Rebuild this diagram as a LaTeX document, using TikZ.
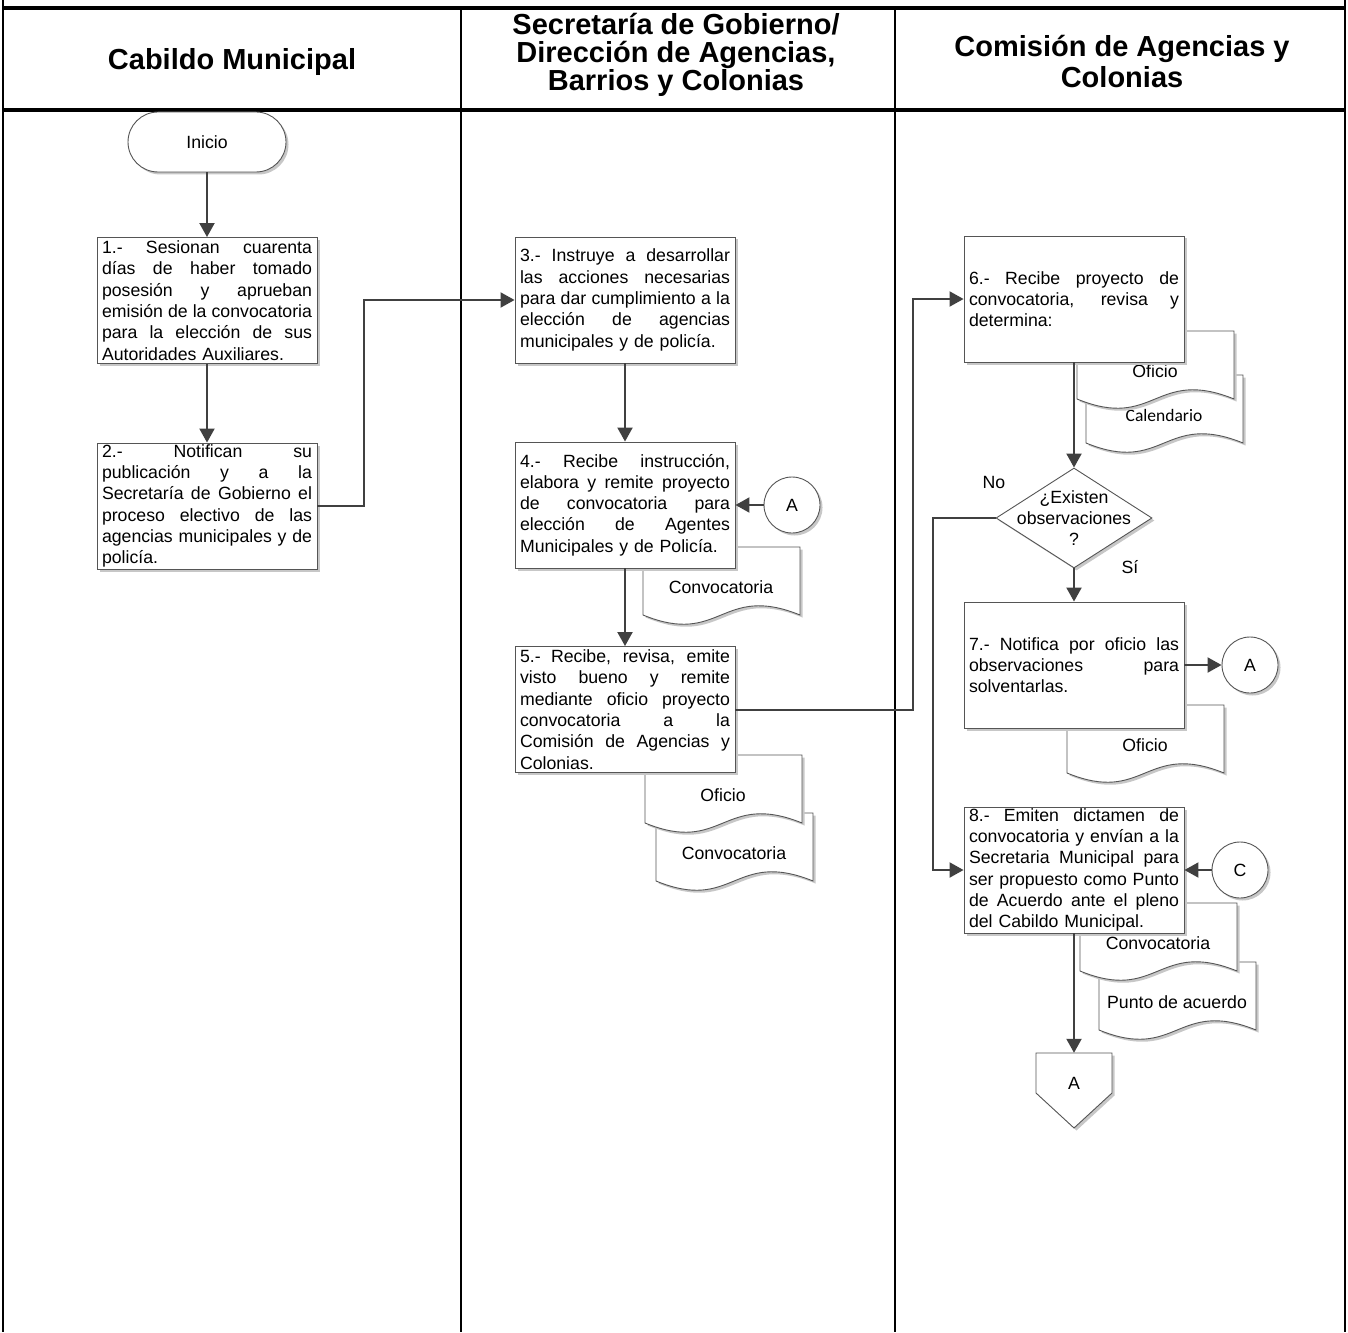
\documentclass[tikz,border=0pt]{standalone}
\usepackage{fontspec}
\setmainfont{Liberation Sans}
\newfontfamily\calfont{Carlito}
\usetikzlibrary{arrows.meta,shapes.geometric,shadows}
\definecolor{FlowLine}{HTML}{404040}
\definecolor{FlowEdge}{HTML}{555555}
\newcommand{\bodyfont}{\fontsize{17.7}{21.3}\selectfont}
\newlength{\stepw}
\setlength{\stepw}{210pt}
% one justified line of a step box
\newcommand{\jl}[1]{\makebox[\stepw][s]{\spaceskip=.278em plus 1fil minus .05em\relax #1}}
% document sheet: name, left, top, label, extra keys
\newcommand{\docsheet}[5]{%
  \begin{scope}[shift={(#2,#3)}]
    \draw[docline] (0,68) -- (0,0) -- (157,0) -- (157,68) .. controls (78,36) and (78,100) .. cycle;
    \node[doclabel,#5] (#1) at (78,40) {#4};
  \end{scope}}
\tikzset{
  shade box/.style={drop shadow={shadow xshift=2.5pt,shadow yshift=-2.5pt,fill=black!22,opacity=1}},
  stepbox/.style={draw=FlowEdge,line width=0.9pt,fill=white,shade box,text width=\stepw,inner xsep=5pt,inner ysep=1pt,minimum height=126pt,align=left,font=\bodyfont},
  docline/.style={draw=FlowEdge,line width=0.9pt,fill=white,shade box},
  doclabel/.style={inner sep=0pt,font=\bodyfont},
  connector/.style={circle,draw=FlowEdge,line width=0.9pt,fill=white,shade box,minimum size=56pt,inner sep=0pt,font=\bodyfont},
  flow/.style={draw=FlowLine,line width=2pt,-{Triangle[length=14pt,width=15pt]}},
  lanehead/.style={align=center,font=\fontsize{29}{28}\selectfont\bfseries},
  lane/.style={black,line width=1.5pt}
}
\begin{document}
\begin{tikzpicture}[x=1pt,y=-1pt]
  \useasboundingbox (0,0) rectangle (1348,1332);
  % swimlanes
  \draw[lane,line width=2pt] (3,0) -- (3,1332);
  \draw[lane,line width=2pt] (1345,0) -- (1345,1332);
  \draw[lane] (461,8) -- (461,1332);
  \draw[lane] (895,8) -- (895,1332);
  \draw[lane,line width=3.5pt] (2,8) -- (1346,8);
  \draw[lane,line width=3.5pt] (2,110) -- (1346,110);
  \node[lanehead] (h1) at (232,62) {Cabildo Municipal};
  \node[lanehead] (h2) at (676,55) {Secretaría de Gobierno/\\Dirección de Agencias,\\Barrios y Colonias};
  \node[lanehead] (h3) at (1122,62) {Comisión de Agencias y\\[3pt]Colonias};

  % documents (back sheets first)
  \docsheet{d4conv}{643}{547}{Convocatoria}{}
  \docsheet{d5conv}{656}{813}{Convocatoria}{}
  \docsheet{d5of}{645}{755}{Oficio}{}
  \docsheet{d6cal}{1086}{375}{Calendario}{font=\calfont\fontsize{17.5}{21}\selectfont}
  \docsheet{d6of}{1077}{331}{Oficio}{}
  \docsheet{d7of}{1067}{705}{Oficio}{}
  \docsheet{d8pun}{1099}{962}{Punto de acuerdo}{}
  \docsheet{d8conv}{1080}{903}{Convocatoria}{}

  % Cabildo Municipal
  \node[draw=FlowEdge,line width=0.9pt,fill=white,shade box,rounded corners=30pt,minimum width=158pt,minimum height=60pt,font=\bodyfont] (inicio) at (207,142) {Inicio};
  \node[stepbox] (s1) at (207,300.5) {\jl{1.- Sesionan cuarenta}\\\jl{días de haber tomado}\\\jl{posesión y aprueban}\\\jl{emisión de la convocatoria}\\\jl{para la elección de sus}\\Autoridades Auxiliares.};
  \node[stepbox] (s2) at (207,506) {\jl{2.- Notifican su}\\\jl{publicación y a la}\\\jl{Secretaría de Gobierno el}\\\jl{proceso electivo de las}\\\jl{agencias municipales y de}\\policía.};

  % Secretaría de Gobierno
  \node[stepbox] (s3) at (625,300) {\jl{3.- Instruye a desarrollar}\\\jl{las acciones necesarias}\\\jl{para dar cumplimiento a la}\\\jl{elección de agencias}\\municipales y de policía.};
  \node[stepbox] (s4) at (625,505) {\jl{4.- Recibe instrucción,}\\\jl{elabora y remite proyecto}\\\jl{de convocatoria para}\\\jl{elección de Agentes}\\Municipales y de Policía.};
  \node[stepbox] (s5) at (625,709.5) {\jl{5.- Recibe, revisa, emite}\\\jl{visto bueno y remite}\\\jl{mediante oficio proyecto}\\\jl{convocatoria a la}\\\jl{Comisión de Agencias y}\\Colonias.};
  \node[connector] (conA1) at (792,505) {A};

  % Comisión de Agencias y Colonias
  \node[stepbox] (s6) at (1074,299) {\jl{6.- Recibe proyecto de}\\\jl{convocatoria, revisa y}\\determina:};
  \node[diamond,draw=FlowEdge,line width=0.9pt,fill=white,shade box,minimum width=156pt,minimum height=100pt,inner sep=0pt] (q) at (1074,518) {};
  \node[align=center,font=\bodyfont] (qtext) at (q.center) {¿Existen\\observaciones\\?};
  \node[font=\bodyfont] (no) at (994,482) {No};
  \node[font=\bodyfont] (si) at (1130,567) {Sí};
  \node[stepbox] (s7) at (1074,665) {\jl{7.- Notifica por oficio las}\\\jl{observaciones para}\\solventarlas.};
  \node[connector] (conA2) at (1250,665) {A};
  \node[stepbox] (s8) at (1074,870) {\jl{8.- Emiten dictamen de}\\\jl{convocatoria y envían a la}\\\jl{Secretaria Municipal para}\\\jl{ser propuesto como Punto}\\\jl{de Acuerdo ante el pleno}\\del Cabildo Municipal.};
  \node[connector] (conC) at (1240,870) {C};
  \draw[docline] (1036,1053) -- (1112,1053) -- (1112,1093) -- (1074,1128) -- (1036,1093) -- cycle;
  \node[minimum width=76pt,minimum height=60pt,inner sep=0pt,font=\bodyfont] (offA) at (1074,1083) {A};

  % flow
  \draw[flow] (inicio) -- (s1);
  \draw[flow] (s1) -- (s2);
  \draw[flow] (s2.east) -- ++(47,0) |- (s3.west);
  \draw[flow] (s3) -- (s4);
  \draw[flow] (conA1) -- (s4.east);
  \draw[flow] (s4) -- (s5);
  \draw[flow] (s5.east) -- ++(178,0) |- (s6.west);
  \draw[flow] (s6) -- (q);
  \draw[flow] (q) -- (s7);
  \draw[flow] (s7.east) -- (conA2);
  \draw[flow] (q.west) -- ++(-63,0) |- (s8.west);
  \draw[flow] (conC) -- (s8.east);
  \draw[flow] (s8) -- (offA);
\end{tikzpicture}
\end{document}
